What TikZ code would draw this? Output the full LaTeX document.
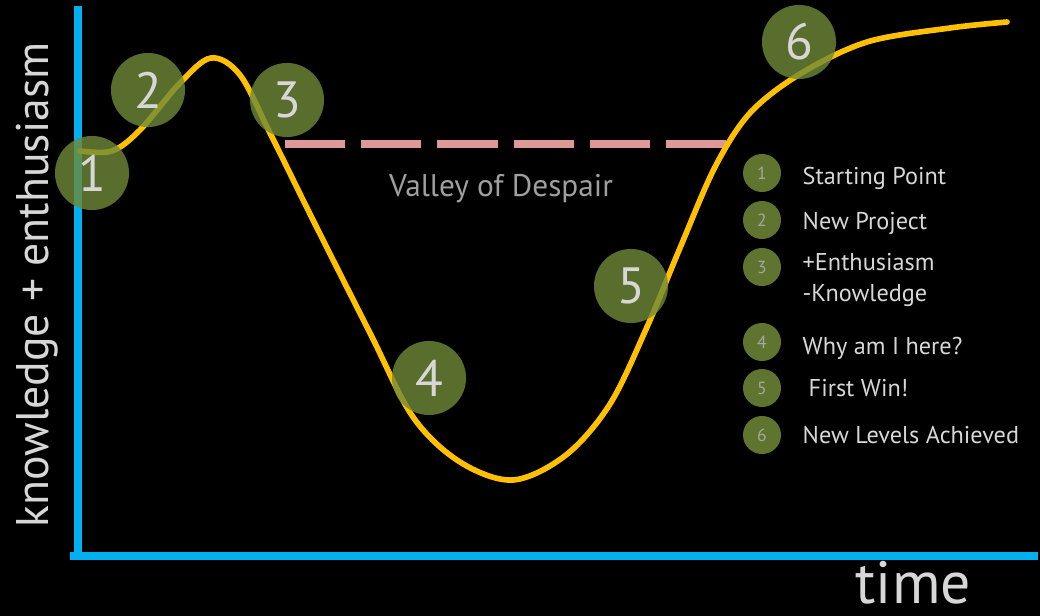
\documentclass[tikz,border=0pt]{standalone}
\usepackage{fontspec}
\setmainfont{PT Sans}
\usetikzlibrary{positioning}
\definecolor{axisblue}{RGB}{0,176,240}
\definecolor{curveyellow}{RGB}{255,192,0}
\definecolor{stepgreen}{RGB}{112,138,56}
\definecolor{valleypink}{RGB}{222,152,152}
\definecolor{labelgray}{RGB}{215,215,215}

\begin{document}
\begin{tikzpicture}[x=0.01cm, y=-0.01cm,
    milestone/.style={circle, fill=stepgreen, fill opacity=0.8, text opacity=1,
      minimum size=0.74cm, inner sep=0pt, text=labelgray,
      font=\fontsize{14.5}{15}\selectfont},
    keydot/.style={circle, fill=stepgreen, fill opacity=0.85, text opacity=1,
      minimum size=0.38cm, inner sep=0pt, text=gray!70,
      font=\fontsize{5}{5}\selectfont},
    keytext/.style={anchor=base west, inner sep=0pt, text=labelgray,
      font=\fontsize{6.9}{7}\selectfont}]
    % Background
    \fill[black] (0,0) rectangle (1040,616);
    \useasboundingbox (0,0) rectangle (1040,616);
    % Axis
    \draw[axisblue, line width=2.3pt] (78,6) -- (78,559);
    \draw[axisblue, line width=2.1pt] (70,556) -- (1038,556);
    \node[rotate=90, anchor=base, inner sep=0pt, text=labelgray,
      font=\fontsize{13}{13}\selectfont] (ylabel) at (48,285) {knowledge + enthusiasm};
    \node[anchor=base west, inner sep=0pt, text=labelgray,
      font=\fontsize{17}{17}\selectfont] (xlabel) at (855,603) {time};
    % Valley line
    \draw[valleypink, line width=2.2pt, dash pattern=on 0.6cm off 0.162cm] (285,144) -- (726,144);
    \node[anchor=base, inner sep=0pt, text=gray!75,
      font=\fontsize{8.9}{9}\selectfont] (valley) at (501,197) {Valley of Despair};
    % Curve
    \draw[curveyellow, line width=1.6pt, line cap=round] plot[smooth, tension=0.55] coordinates {
      (80,151) (112,151) (140,130) (180,83) (211,58) (240,75) (270,133) (313,220)
      (370,333) (413,417) (460,462) (513,480) (566,455) (610,404)
      (647,327) (680,248) (715,167) (750,113) (800,74) (867,42) (950,28) (1007,22)};
    % Milestones
    \node[milestone] (m1) at (92,173) {1};
    \node[milestone] (m2) at (148,90) {2};
    \node[milestone] (m3) at (287,100) {3};
    \node[milestone] (m4) at (429,378) {4};
    \node[milestone] (m5) at (631,286) {5};
    \node[milestone] (m6) at (799,42) {6};
    % Legend
    \node[keydot] (k1) at (762,173) {1};
    \node[keydot] (k2) at (762,220) {2};
    \node[keydot] (k3) at (762,267) {3};
    \node[keydot] (k4) at (762,342) {4};
    \node[keydot] (k5) at (762,388) {5};
    \node[keydot] (k6) at (762,435) {6};
    \node[keytext] (t1) at (802,185) {Starting Point};
    \node[keytext] (t2) at (802,230) {New Project};
    \node[keytext] (t3) at (802,271) {+Enthusiasm};
    \node[keytext] (t3b) at (802,302) {-Knowledge};
    \node[keytext] (t4) at (802,355) {Why am I here?};
    \node[keytext] (t5) at (808,397) {First Win!};
    \node[keytext] (t6) at (802,444) {New Levels Achieved};
\end{tikzpicture}
\end{document}
